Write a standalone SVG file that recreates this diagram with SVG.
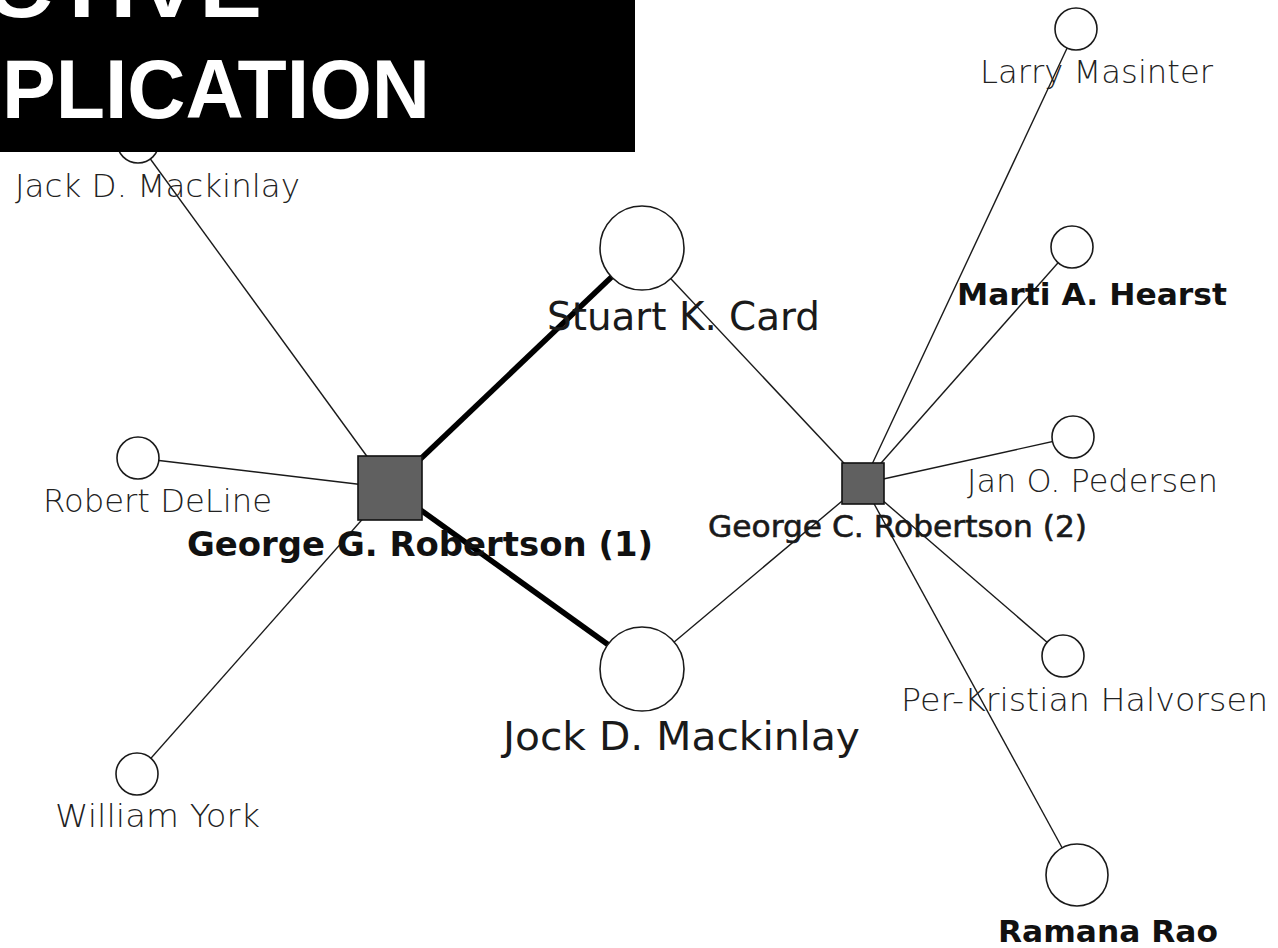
<svg xmlns="http://www.w3.org/2000/svg" width="1278" height="948" viewBox="0 0 1278 948">
<style>
.edge{stroke:#1a1a1a;stroke-width:1.4;fill:none}
.strong{stroke:#000;stroke-width:5.5;fill:none}
.circ{fill:#fff;stroke:#1a1a1a;stroke-width:1.6}
.sq{fill:#606060;stroke:#111;stroke-width:1.6}
.lt{font-family:"DejaVu Sans","Liberation Sans",sans-serif;font-weight:300;font-size:32px;fill:#222}
.bd{font-family:"DejaVu Sans","Liberation Sans",sans-serif;font-weight:bold;fill:#111}
.md{font-family:"DejaVu Sans","Liberation Sans",sans-serif;fill:#1a1a1a}
.ban{font-family:"Liberation Sans",Arial,sans-serif;font-weight:bold;font-size:84px;fill:#fff}
</style>
<rect width="1278" height="948" fill="#fff"/>
<g id="connectors">
<line class="edge" x1="138" y1="142" x2="390" y2="488"/>
<line class="edge" x1="138" y1="458" x2="390" y2="488"/>
<line class="edge" x1="137" y1="774" x2="390" y2="488"/>
<line class="strong" x1="642" y1="248" x2="390" y2="488"/>
<line class="strong" x1="642" y1="669" x2="390" y2="488"/>
<line class="edge" x1="642" y1="248" x2="863" y2="483.5"/>
<line class="edge" x1="642" y1="669" x2="863" y2="483.5"/>
<line class="edge" x1="1076" y1="29" x2="863" y2="483.5"/>
<line class="edge" x1="1072" y1="247" x2="863" y2="483.5"/>
<line class="edge" x1="1073" y1="437" x2="863" y2="483.5"/>
<line class="edge" x1="1063" y1="656" x2="863" y2="483.5"/>
<line class="edge" x1="1077" y1="875" x2="863" y2="483.5"/>
</g>
<g id="jack-mackinlay">
<circle class="circ" cx="138" cy="142" r="21"/>
<text class="lt" x="15" y="197" textLength="285" lengthAdjust="spacingAndGlyphs">Jack D. Mackinlay</text>
</g>
<g id="robert-deline">
<circle class="circ" cx="138" cy="458" r="21"/>
<text class="lt" x="43" y="512" textLength="229" lengthAdjust="spacingAndGlyphs">Robert DeLine</text>
</g>
<g id="william-york">
<circle class="circ" cx="137" cy="774" r="21"/>
<text class="lt" x="55" y="827" textLength="205" lengthAdjust="spacingAndGlyphs">William York</text>
</g>
<g id="stuart-card">
<circle class="circ" cx="642" cy="248" r="42"/>
<text class="md" x="547" y="330" font-size="39" textLength="273" lengthAdjust="spacingAndGlyphs">Stuart K. Card</text>
</g>
<g id="jock-mackinlay">
<circle class="circ" cx="642" cy="669" r="42"/>
<text class="md" x="503" y="750" font-size="39" textLength="357" lengthAdjust="spacingAndGlyphs">Jock D. Mackinlay</text>
</g>
<g id="george-g-robertson">
<rect class="sq" x="358" y="456" width="64" height="64"/>
<text class="bd" x="187" y="556" font-size="33" textLength="466" lengthAdjust="spacingAndGlyphs">George G. Robertson (1)</text>
</g>
<g id="george-c-robertson">
<rect class="sq" x="842" y="463" width="42" height="41"/>
<text class="md" x="708" y="537" font-size="31" stroke="#1a1a1a" stroke-width="0.6" textLength="379" lengthAdjust="spacingAndGlyphs">George C. Robertson (2)</text>
</g>
<g id="larry-masinter">
<circle class="circ" cx="1076" cy="29" r="21"/>
<text class="lt" x="980" y="83" textLength="233" lengthAdjust="spacingAndGlyphs">Larry Masinter</text>
</g>
<g id="marti-hearst">
<circle class="circ" cx="1072" cy="247" r="21"/>
<text class="bd" x="957" y="305" font-size="30" textLength="270" lengthAdjust="spacingAndGlyphs">Marti A. Hearst</text>
</g>
<g id="jan-pedersen">
<circle class="circ" cx="1073" cy="437" r="21"/>
<text class="lt" x="967" y="492" textLength="251" lengthAdjust="spacingAndGlyphs">Jan O. Pedersen</text>
</g>
<g id="per-kristian-halvorsen">
<circle class="circ" cx="1063" cy="656" r="21"/>
<text class="lt" x="901" y="711" textLength="367" lengthAdjust="spacingAndGlyphs">Per-Kristian Halvorsen</text>
</g>
<g id="ramana-rao">
<circle class="circ" cx="1077" cy="875" r="31"/>
<text class="bd" x="998" y="942" font-size="31" textLength="220" lengthAdjust="spacingAndGlyphs">Ramana Rao</text>
</g>
<g id="banner">
<rect x="0" y="0" width="635" height="152" fill="#000"/>
<text class="ban" x="-83" y="17" textLength="345" lengthAdjust="spacingAndGlyphs">ACTIVE</text>
<text class="ban" x="2" y="118" textLength="428" lengthAdjust="spacingAndGlyphs">PLICATION</text>
</g>
</svg>
